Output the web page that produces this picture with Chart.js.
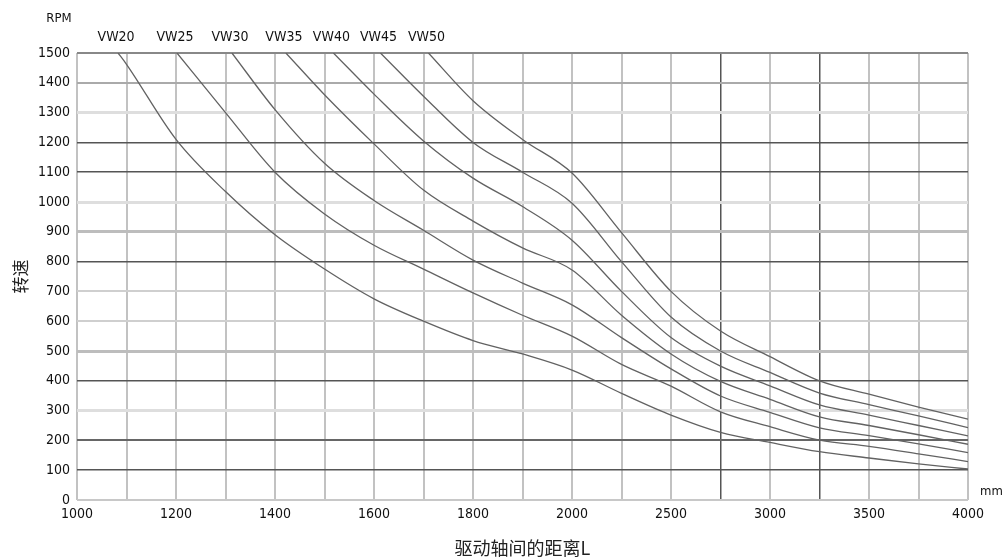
<!DOCTYPE html>
<html>
<head>
<meta charset="utf-8">
<script src="https://cdn.jsdelivr.net/npm/chart.js@4.4.0/dist/chart.umd.min.js"></script>
<style>
html,body{margin:0;padding:0;background:#fff;}
#wrap{width:1006px;height:557px;}
</style>
</head>
<body>
<div id="wrap"><canvas id="speedChart"></canvas></div>
<script>
// axis columns (mm) - scale is 100mm per column up to 2000, then 250mm
const gridMm=[1000,1100,1200,1300,1400,1500,1600,1700,1800,1900,2000,2250,2500,2750,3000,3250,3500,3750,4000];
const tickLabels=["1000","","1200","","1400","","1600","","1800","","2000","","2500","","3000","","3500","","4000"];
const seriesNames=["VW20","VW25","VW30","VW35","VW40","VW45","VW50"];
// where each curve leaves the 1500 rpm line
const startMm=[1083,1202,1313,1422,1518,1613,1710];
const vw20=[null,1462,1210,1035,890,775,675,600,535,490,436,358,285,227,193,162,141,121,104];
const vw25=[null,null,null,1300,1100,960,855,775,695,620,550,455,382,296,246,201,180,155,129];
const vw30=[null,null,null,null,1310,1130,1005,905,805,728,655,545,440,349,294,242,216,188,159];
const vw35=[null,null,null,null,null,1360,1195,1040,936,846,772,620,490,398,338,279,250,219,187];
const vw40=[null,null,null,null,null,null,1362,1205,1080,985,872,700,545,449,383,319,285,250,215];
const vw45=[null,null,null,null,null,null,null,1355,1200,1100,996,800,614,500,428,359,320,282,243];
const vw50=[null,null,null,null,null,null,null,null,1340,1210,1097,897,700,567,481,400,355,312,271];
const yTicksMax=1500;

const allSeries=[vw20,vw25,vw30,vw35,vw40,vw45,vw50];

function mmToPos(mm){
for(let i=0;i<gridMm.length-1;i++){
if(mm<=gridMm[i+1]){
return i+(mm-gridMm[i])/(gridMm[i+1]-gridMm[i]);
}
}
return gridMm.length-1;
}

function buildPoints(idx){
let pts=[{x:mmToPos(startMm[idx]),y:yTicksMax}];
allSeries[idx].forEach((v,i)=>{
if(v!==null && gridMm[i]>startMm[idx]) pts.push({x:mmToPos(gridMm[i]),y:v});
});
return pts;
}

// scanned-look grid styling
const hGrid={0:["#c8c8c8",2],100:["#555",1.5],200:["#666",2],300:["#dedede",3],400:["#555",1.5],
500:["#bdbdbd",3],600:["#cfcfcf",2],700:["#cfcfcf",2],800:["#555",1.5],900:["#bdbdbd",3],
1000:["#dedede",3],1100:["#555",1.5],1200:["#555",1.5],1300:["#dedede",3],1400:["#aaa",2],1500:["#888",2]};
const darkCols=[13,15];

const narrow="'Liberation Sans Narrow','DejaVu Sans Condensed','Roboto',sans-serif";
const cjk="'Noto Sans CJK SC','Noto Sans',sans-serif";

const labelPlugin={
id:"labels",
afterDraw(chart){
const c=chart.ctx;
const xs=chart.scales.x;
c.save();
c.fillStyle="#111";
c.textBaseline="middle";
c.textAlign="center";
c.font="13px "+narrow;
c.fillText("RPM",59,19);
c.font="14px "+narrow;
seriesNames.forEach((n,i)=>{
c.fillText(n,xs.getPixelForValue(mmToPos(startMm[i]))-2,37);
});
c.font="13px "+narrow;
c.textAlign="left";
c.fillText("mm",980,492);
c.restore();
}
};

new Chart(document.getElementById("speedChart"),{
type:"line",
data:{
datasets:seriesNames.map((n,i)=>({
label:n,
data:buildPoints(i),
borderColor:"#626262",
borderWidth:1.3,
pointRadius:0,
fill:false,
cubicInterpolationMode:"monotone",
spanGaps:true
}))
},
options:{
responsive:true,
maintainAspectRatio:false,
animation:false,
devicePixelRatio:1,
layout:{padding:{top:53,right:38,left:0,bottom:0}},
plugins:{legend:{display:false},tooltip:{enabled:false}},
scales:{
x:{
type:"linear",
min:0,max:gridMm.length-1,
border:{display:false},
grid:{
drawTicks:false,
color:ctx=>darkCols.includes(ctx.tick.value)?"#555":"#c2c2c2",
lineWidth:ctx=>darkCols.includes(ctx.tick.value)?1.5:2
},
ticks:{
stepSize:1,autoSkip:false,maxRotation:0,padding:6,color:"#111",
font:{family:narrow,size:14},
callback:v=>tickLabels[v]??""
},
title:{display:true,text:"驱动轴间的距离L",color:"#222",font:{family:cjk,size:18,lineHeight:1},padding:{top:0,bottom:0}},
afterFit:s=>{s.height=57;}
},
y:{
min:0,max:yTicksMax,
border:{display:false},
grid:{
drawTicks:false,
color:ctx=>(hGrid[ctx.tick.value]||["#ccc",1])[0],
lineWidth:ctx=>(hGrid[ctx.tick.value]||["#ccc",1])[1]
},
ticks:{stepSize:100,padding:7,color:"#111",font:{family:narrow,size:14},callback:v=>String(v)},
title:{display:true,text:"转速",color:"#222",font:{family:cjk,size:17,lineHeight:1.2},padding:{top:10,bottom:0}},
afterFit:s=>{s.width=77;}
}
}
},
plugins:[labelPlugin]
});
</script>
</body>
</html>
